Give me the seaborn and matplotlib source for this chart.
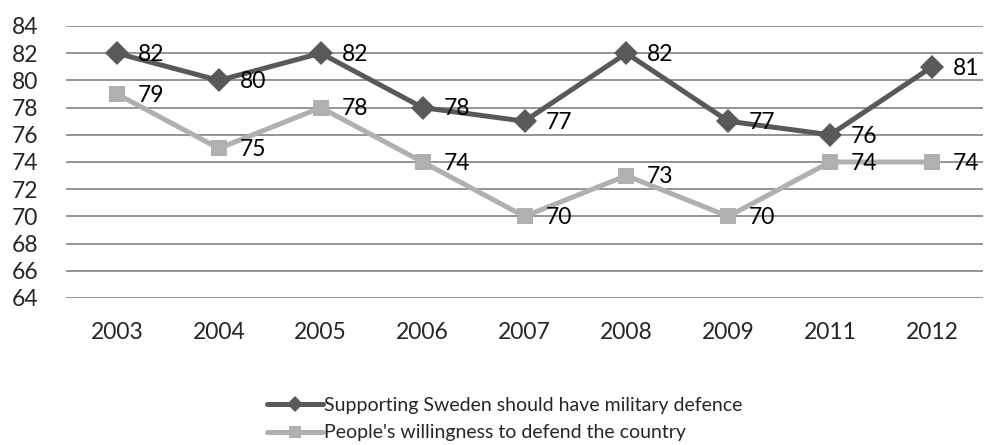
import matplotlib
matplotlib.use("Agg")
import matplotlib.pyplot as plt
import seaborn as sns
import pandas as pd

years = ["2003", "2004", "2005", "2006", "2007", "2008", "2009", "2011", "2012"]
support_defence = [82, 80, 82, 78, 77, 82, 77, 76, 81]
willingness = [79, 75, 78, 74, 70, 73, 70, 74, 74]
series_names = ["Supporting Sweden should have military defence",
                "People's willingness to defend the country"]
y_ticks = list(range(64, 85, 2))

sns.set_theme(style="white")
plt.rcParams["font.family"] = ["Lato", "DejaVu Sans"]

df = pd.DataFrame({
    "pos": list(range(len(years))) * 2,
    "value": support_defence + willingness,
    "series": [series_names[0]] * len(years) + [series_names[1]] * len(years),
})

dark, light = "#595959", "#b0b0b0"
palette = {series_names[0]: dark, series_names[1]: light}
markers = {series_names[0]: "D", series_names[1]: "s"}

fig = plt.figure(figsize=(9.84, 4.45), dpi=100)
ax = fig.add_axes([66 / 984, 1 - 298 / 445, (983 - 66) / 984, (298 - 26) / 445])

sns.lineplot(data=df, x="pos", y="value", hue="series", style="series",
             palette=palette, markers=markers, dashes=False, sort=False,
             linewidth=3.6, markersize=12, markeredgewidth=0, ax=ax, legend=True)

# value labels to the right of each point
for vals in (support_defence, willingness):
    for i, v in enumerate(vals):
        ax.annotate(str(v), (i, v), xytext=(15, -1), textcoords="offset points",
                    ha="left", va="center", fontsize=16.5, color="black")

ax.set_xlim(-0.5, len(years) - 0.5)
ax.set_ylim(64, 84)
ax.set_yticks(y_ticks)
ax.set_yticklabels([str(t) for t in y_ticks], fontsize=16.5)
ax.set_xticks(range(len(years)))
ax.set_xticklabels(years, fontsize=16.5)
ax.tick_params(axis="x", pad=17, length=0)
ax.tick_params(axis="y", pad=20, length=0)
ax.grid(axis="y", color="#8c8c8c", linewidth=1.3)
ax.set_axisbelow(True)
for s in ax.spines.values():
    s.set_visible(False)
ax.set_xlabel("")
ax.set_ylabel("")

handles, labels = ax.get_legend_handles_labels()
ax.get_legend().remove()
for h in handles:
    h.set_markersize(8)
    h.set_linewidth(3.6)
fig.legend(handles, labels, loc="upper left", bbox_to_anchor=(259 / 984, 1 - 389 / 445),
           frameon=False, fontsize=14, handlelength=2.9, handletextpad=0.05,
           labelspacing=0.55, borderaxespad=0)

fig.savefig("out.png", dpi=100)
